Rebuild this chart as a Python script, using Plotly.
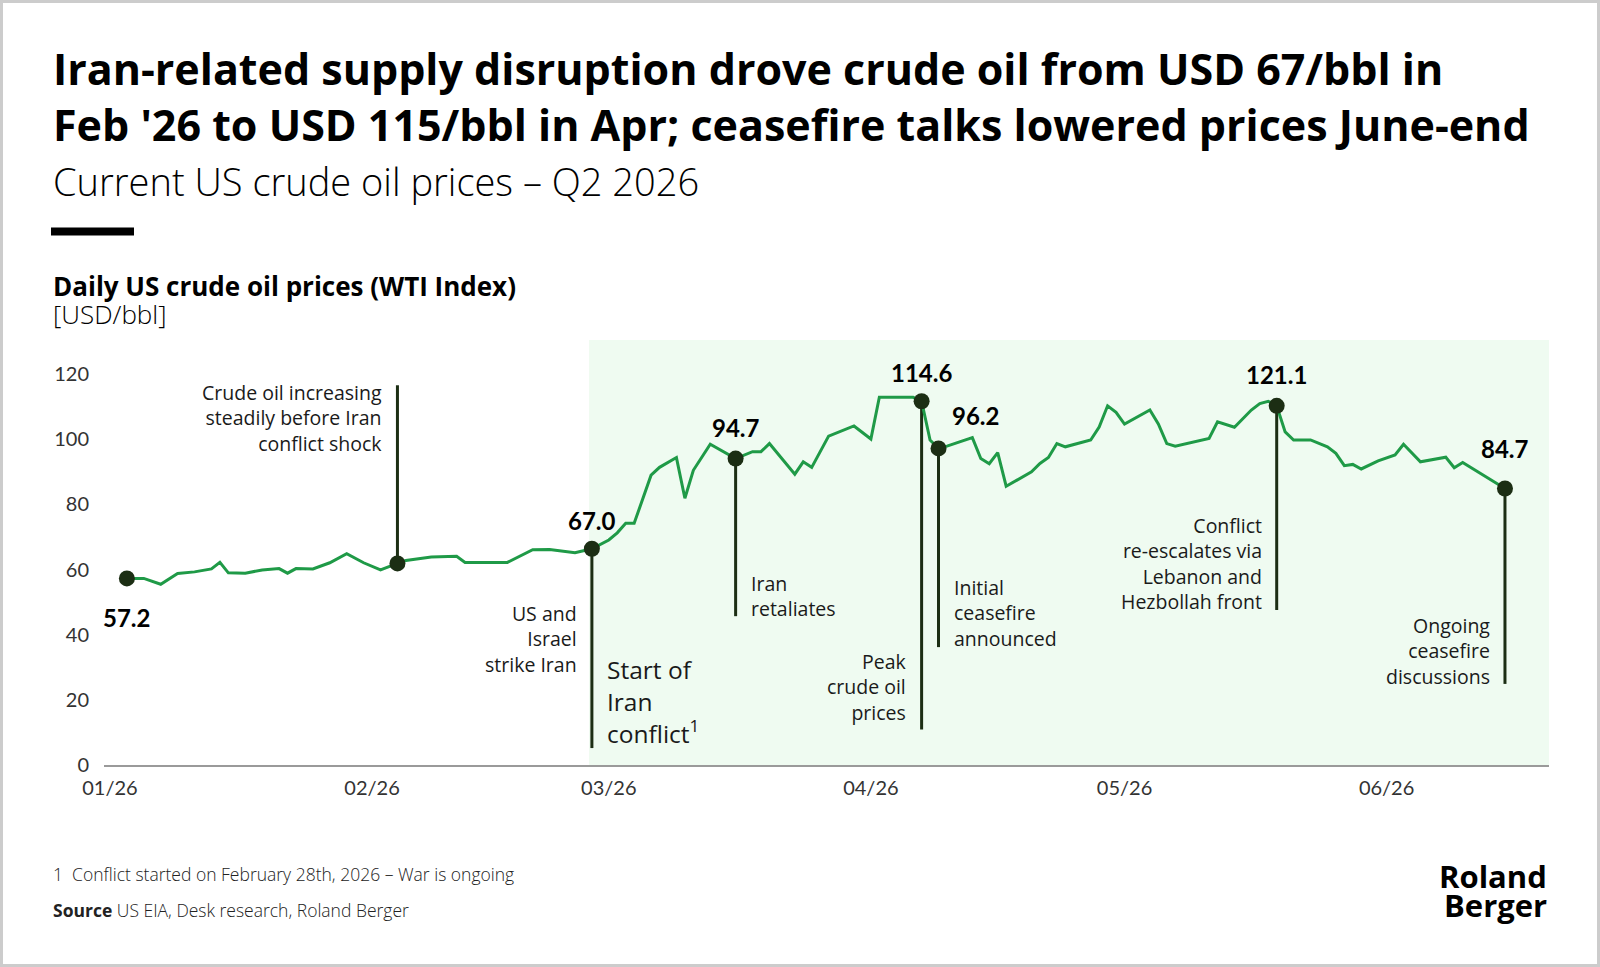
import plotly.graph_objects as go

# ---------------------------------------------------------------------------
# Data
# ---------------------------------------------------------------------------
dates = [
    "2026-01-03", "2026-01-05", "2026-01-07", "2026-01-09", "2026-01-11", "2026-01-13",
    "2026-01-14", "2026-01-15", "2026-01-17", "2026-01-19", "2026-01-21", "2026-01-22",
    "2026-01-23", "2026-01-25", "2026-01-27", "2026-01-29", "2026-01-31", "2026-02-02",
    "2026-02-04", "2026-02-05", "2026-02-08", "2026-02-11", "2026-02-12", "2026-02-17",
    "2026-02-20", "2026-02-22", "2026-02-25", "2026-02-27", "2026-03-01", "2026-03-02",
    "2026-03-03", "2026-03-04", "2026-03-06", "2026-03-07", "2026-03-09", "2026-03-10",
    "2026-03-11", "2026-03-13", "2026-03-16", "2026-03-18", "2026-03-19", "2026-03-20",
    "2026-03-23", "2026-03-24", "2026-03-25", "2026-03-27", "2026-03-30", "2026-04-01",
    "2026-04-02", "2026-04-06", "2026-04-07", "2026-04-08", "2026-04-09", "2026-04-10",
    "2026-04-13", "2026-04-14", "2026-04-15", "2026-04-16", "2026-04-17", "2026-04-20",
    "2026-04-21", "2026-04-22", "2026-04-23", "2026-04-24", "2026-04-27", "2026-04-28",
    "2026-04-29", "2026-04-30", "2026-05-01", "2026-05-04", "2026-05-05", "2026-05-06",
    "2026-05-07", "2026-05-11", "2026-05-12", "2026-05-14", "2026-05-16", "2026-05-17",
    "2026-05-18", "2026-05-19", "2026-05-20", "2026-05-21", "2026-05-23", "2026-05-25",
    "2026-05-26", "2026-05-27", "2026-05-28", "2026-05-29", "2026-05-31", "2026-06-02",
    "2026-06-03", "2026-06-05", "2026-06-08", "2026-06-09", "2026-06-10", "2026-06-13",
    "2026-06-15",
]
prices = [
    57.3, 57.3, 55.5, 58.8, 59.3, 60.2,
    62.2, 59.0, 58.9, 59.9, 60.3, 58.9,
    60.3, 60.2, 62.1, 64.9, 62.1, 59.9,
    61.9, 62.8, 63.9, 64.1, 62.2, 62.2,
    66.1, 66.2, 65.2, 66.4, 69.1, 71.3,
    74.2, 74.2, 89.0, 91.4, 94.4, 81.9,
    90.5, 98.5, 94.1, 96.2, 96.2, 98.7,
    89.3, 93.1, 91.4, 101.0, 104.1, 100.1,
    112.9, 112.9, 111.7, 99.8, 97.2, 97.9,
    100.5, 94.1, 92.5, 95.9, 85.6, 90.0,
    92.6, 94.4, 98.7, 97.7, 99.8, 103.8,
    110.3, 108.3, 104.7, 109.0, 104.7, 98.7,
    97.9, 100.3, 105.4, 103.7, 109.0, 111.0,
    111.7, 110.3, 102.3, 99.8, 99.8, 97.7,
    95.7, 91.9, 92.3, 90.9, 93.4, 95.2,
    98.5, 93.1, 94.5, 91.3, 92.9, 88.2,
    84.9,
]

# Highlighted events
event_dates = ["2026-01-03", "2026-02-04", "2026-02-27", "2026-03-16",
               "2026-04-07", "2026-04-09", "2026-05-19", "2026-06-15"]
event_labels = ["57.2", "", "67.0", "94.7", "114.6", "96.2", "121.1", "84.7"]
event_notes = [
    None,
    "Crude oil increasing<br>steadily before Iran<br>conflict shock",
    "US and<br>Israel<br>strike Iran",
    "Iran<br>retaliates",
    "Peak<br>crude oil<br>prices",
    "Initial<br>ceasefire<br>announced",
    "Conflict<br>re-escalates via<br>Lebanon and<br>Hezbollah front",
    "Ongoing<br>ceasefire<br>discussions",
]
stem_ends = [None, 116.6, 5.2, 45.7, 10.9, 36.2, 47.6, 24.9]

y_ticks = [0, 20, 40, 60, 80, 100, 120]
x_ticks = ["2026-01-01", "2026-02-01", "2026-03-01", "2026-04-01", "2026-05-01", "2026-06-01"]
x_range = ["2025-12-31 07:00", "2026-06-20 05:00"]
conflict_start = "2026-02-26 16:00"

# ---------------------------------------------------------------------------
# Layout helpers (pixel -> paper)
# ---------------------------------------------------------------------------
W, H = 1600, 967
PL, PR, PT, PB = 104, 1549, 340, 765


def px(x):
    return (x - PL) / (PR - PL)


def py(y):
    return (PB - y) / (PB - PT)


FONT = "Open Sans"
NUMFONT = "Lato"
GREEN = "#1f9a47"
DARK = "#1c2e14"
TXT = "#1a1a1a"

price_at = dict(zip(dates, prices))
event_vals = [price_at[d] for d in event_dates]

fig = go.Figure()

fig.add_trace(go.Scatter(
    x=dates, y=prices, mode="lines",
    line=dict(color=GREEN, width=3),
    hoverinfo="x+y",
))
fig.add_trace(go.Scatter(
    x=event_dates, y=event_vals, mode="markers",
    marker=dict(color=DARK, size=16),
    hoverinfo="skip",
))

shapes = [
    # conflict period shading
    dict(type="rect", xref="x", yref="paper", x0=conflict_start, x1=x_range[1], y0=0, y1=1,
         fillcolor="#effbf1", line_width=0, layer="below"),
    # black bar under subtitle
    dict(type="rect", xref="paper", yref="paper", x0=px(51), x1=px(134), y0=py(227.5), y1=py(235.5),
         fillcolor="#000000", line_width=0),
    # outer frame
    dict(type="rect", xref="paper", yref="paper", x0=px(1.5), x1=px(W - 1.5), y0=py(1.5), y1=py(H - 1.5),
         line=dict(color="#cccccc", width=3), fillcolor="rgba(0,0,0,0)"),
]
for d, v, e in zip(event_dates, event_vals, stem_ends):
    if e is None:
        continue
    shapes.append(dict(type="line", xref="x", yref="y", x0=d, x1=d, y0=v, y1=e,
                       line=dict(color=DARK, width=3), layer="below"))

annotations = []

# value labels above / beside the dots
label_shift = [(0, -39), None, (0, 28), (0, 31), (0, 29), (37, 33), (0, 31), (0, 40)]
for d, v, lab, sh in zip(event_dates, event_vals, event_labels, label_shift):
    if not lab:
        continue
    annotations.append(dict(x=d, y=v, xref="x", yref="y", text=lab, showarrow=False,
                            xshift=sh[0], yshift=sh[1],
                            font=dict(family=NUMFONT, size=24, color="#000000", weight="bold")))

# event notes next to the stems
note_side = [None, "right", "right", "left", "right", "left", "right", "right"]
note_cy = [None, 417.5, 638.7, 596, 687, 613, 563.8, 651]
for d, note, side, cy in zip(event_dates, event_notes, note_side, note_cy):
    if note is None:
        continue
    annotations.append(dict(x=d, y=py(cy), xref="x", yref="paper", text=note, showarrow=False,
                            xanchor=side, yanchor="middle", align=side,
                            xshift=-13 if side == "right" else 13,
                            font=dict(family=FONT, size=19.5, color=TXT)))

annotations.append(dict(x=event_dates[2], y=py(701), xref="x", yref="paper",
                        text="Start of<br>Iran<br>conflict<sup>1</sup>", showarrow=False,
                        xanchor="left", yanchor="middle", align="left", xshift=13,
                        font=dict(family=FONT, size=24.5, color=TXT)))

# titles
annotations += [
    dict(x=px(51), y=py(96.5), xref="paper", yref="paper", xanchor="left", yanchor="middle",
         align="left", showarrow=False,
         text="Iran-related supply disruption drove crude oil from USD 67/bbl in<br>"
              "Feb '26 to USD 115/bbl in Apr; ceasefire talks lowered prices June-end",
         font=dict(family=FONT, size=43, color="#000000", weight="bold")),
    dict(x=px(51), y=py(180.6), xref="paper", yref="paper", xanchor="left", yanchor="middle",
         showarrow=False, text="Current US crude oil prices – Q2 2026",
         font=dict(family=FONT, size=38, color="#000000", weight=300)),
    dict(x=px(51), y=py(285.7), xref="paper", yref="paper", xanchor="left", yanchor="middle",
         showarrow=False, text="Daily US crude oil prices (WTI Index)",
         font=dict(family=FONT, size=26, color="#000000", weight="bold")),
    dict(x=px(51), y=py(314), xref="paper", yref="paper", xanchor="left", yanchor="middle",
         showarrow=False, text="[USD/bbl]",
         font=dict(family=FONT, size=26, color="#000000", weight=300)),
    dict(x=px(51), y=py(873.5), xref="paper", yref="paper", xanchor="left", yanchor="middle",
         showarrow=False, text="1  Conflict started on February 28th, 2026 – War is ongoing",
         font=dict(family=FONT, size=17.5, color="#222222", weight=300)),
    dict(x=px(51), y=py(910), xref="paper", yref="paper", xanchor="left", yanchor="middle",
         showarrow=False, text="<b>Source</b> US EIA, Desk research, Roland Berger",
         font=dict(family=FONT, size=17.5, color="#222222", weight=300)),
    dict(x=px(1549), y=py(876), xref="paper", yref="paper", xanchor="right", yanchor="middle",
         showarrow=False, text="Roland",
         font=dict(family=FONT, size=31, color="#000000", weight="bold")),
    dict(x=px(1549), y=py(905), xref="paper", yref="paper", xanchor="right", yanchor="middle",
         showarrow=False, text="Berger",
         font=dict(family=FONT, size=31, color="#000000", weight="bold")),
]

fig.update_layout(
    width=W, height=H,
    margin=dict(l=PL, r=W - PR, t=PT, b=H - PB),
    paper_bgcolor="#ffffff",
    plot_bgcolor="#ffffff",
    showlegend=False,
    shapes=shapes,
    annotations=annotations,
    font=dict(family=NUMFONT, color="#333333"),
    xaxis=dict(
        type="date",
        range=x_range,
        tickvals=x_ticks, tickformat="%m/%y",
        showgrid=False, zeroline=False,
        showline=True, linecolor="#9a9a9a", linewidth=2,
        ticks="", ticklabelstandoff=4,
        tickfont=dict(family=NUMFONT, size=20, color="#333333"),
    ),
    yaxis=dict(
        range=[0, 130.5],
        tickvals=y_ticks,
        showgrid=False, zeroline=False, showline=False,
        ticks="", ticklabelstandoff=14,
        tickfont=dict(family=NUMFONT, size=20, color="#333333"),
    ),
)

fig.write_html("out.html", config={"displayModeBar": False},
               post_script="document.body.style.margin='0';")
